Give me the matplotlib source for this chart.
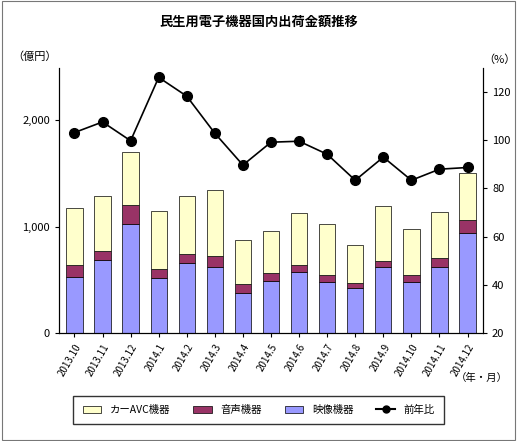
import matplotlib
matplotlib.use("Agg")
import matplotlib.pyplot as plt
from matplotlib.lines import Line2D
from matplotlib.patches import Patch

plt.rcParams['font.family'] = ['Noto Sans CJK JP', 'DejaVu Sans']

months = ["2013.10","2013.11","2013.12","2014.1","2014.2","2014.3","2014.4","2014.5","2014.6",
          "2014.7","2014.8","2014.9","2014.10","2014.11","2014.12"]
totals = [1171,1289,1700,1143,1289,1346,876,958,1124,1026,826,1189,974,1133,1502]
red_top = [641,770,1202,604,739,720,460,561,641,545,469,676,545,701,1058]
video = [529,683,1026,514,657,623,379,486,573,479,419,617,479,617,939]
yoy = [103.2,107.6,99.8,126.1,118.3,102.9,89.7,99.2,99.6,94.2,83.4,93.0,83.4,88.0,88.7]

audio = [r - v for r, v in zip(red_top, video)]
car = [t - r for t, r in zip(totals, red_top)]

W, H = 517, 441
fig = plt.figure(figsize=(W/100, H/100), dpi=100)
fig.patches.append(plt.Rectangle((0.003, 0.003), 0.994, 0.994, transform=fig.transFigure,
                                 fill=False, edgecolor='#777777', lw=0.8))
ax = fig.add_axes([59/W, 1-333/H, (483-59)/W, (333-68)/H])
x = list(range(len(months)))
bw = 0.58
ax.bar(x, video, bw, color='#9999FF', edgecolor='black', lw=0.5)
ax.bar(x, audio, bw, bottom=video, color='#993366', edgecolor='black', lw=0.5)
ax.bar(x, car, bw, bottom=red_top, color='#FFFFCC', edgecolor='black', lw=0.5)
ax.set_ylim(0, 2490)
ax.set_xlim(-0.55, len(months)-0.45)
ax.set_yticks([0, 1000, 2000])
ax.set_yticklabels(['0', '1,000', '2,000'], fontsize=8)
ax.set_xticks(x)
ax.set_xticklabels(months, rotation=60, ha='right', fontsize=7, rotation_mode='anchor')
ax.spines['top'].set_visible(False)
ax.tick_params(length=3)

ax2 = ax.twinx()
ax2.plot(x, yoy, color='black', marker='o', ms=7, lw=1.2)
ax2.set_ylim(20, 130)
ax2.set_yticks([20, 40, 60, 80, 100, 120])
ax2.tick_params(labelsize=8, length=3)
ax2.spines['top'].set_visible(False)

fig.text(0.5, 1-22/H, '民生用電子機器国内出荷金額推移', ha='center', va='center', fontsize=9.5,
         fontweight='bold')
fig.text(12/W, 1-57/H, '（億円）', fontsize=8, va='center')
fig.text(483/W, 1-60/H, '（%）', fontsize=8, va='center')
fig.text(508/W, 1-378/H, '（年・月）', fontsize=7.5, va='center', ha='right')

handles = [Patch(facecolor='#FFFFCC', edgecolor='black', lw=0.5),
           Patch(facecolor='#993366', edgecolor='black', lw=0.5),
           Patch(facecolor='#9999FF', edgecolor='black', lw=0.5),
           Line2D([], [], color='black', marker='o', ms=5)]
fig.legend(handles, ['カーAVC機器', '音声機器', '映像機器', '前年比'], ncol=4,
           loc='center', bbox_to_anchor=(0.5, 1-410/H), fontsize=7.5, frameon=True,
           fancybox=False, edgecolor='black', handlelength=1.8, columnspacing=2.2,
           borderpad=0.9)
fig.savefig('out.png', dpi=100)
